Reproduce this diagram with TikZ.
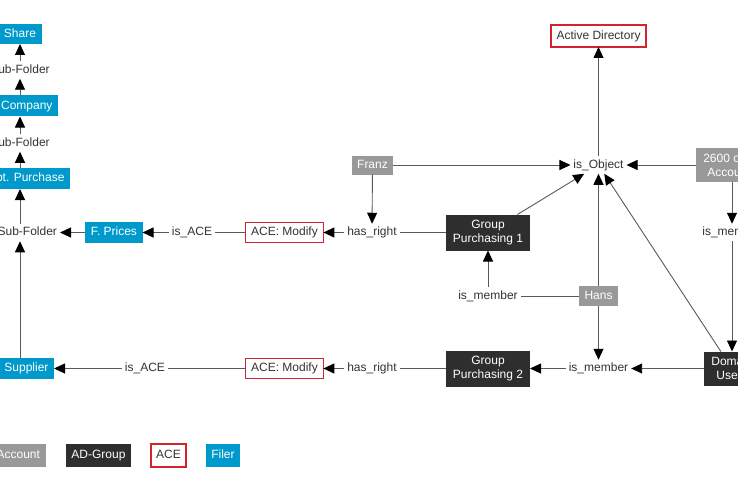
\documentclass[tikz,border=0pt]{standalone}
\usepackage{fontspec}
\setmainfont{Liberation Sans}
\usetikzlibrary{arrows.meta}
\definecolor{filer}{HTML}{0099CC}
\definecolor{acct}{HTML}{999999}
\definecolor{grp}{HTML}{2E2E2E}
\definecolor{acered}{HTML}{D02530}
\definecolor{txt}{HTML}{333333}
\definecolor{ln}{HTML}{5A5A5A}
\begin{document}
\begin{tikzpicture}[x=1pt,y=-1pt,
 every node/.style={font=\fontsize{12}{14}\selectfont, outer sep=0pt},
 sl/.style={text height=9pt, text depth=2.5pt},
 box/.style={inner xsep=5.5pt, inner ysep=0pt, minimum height=21pt, text=white},
 filerbox/.style={box, sl, fill=filer},
 acctbox/.style={box, sl, fill=acct},
 grpbox/.style={box, fill=grp, align=center, minimum width=84pt, minimum height=36pt},
 acebox/.style={box, sl, draw=acered, line width=1.5pt, fill=white, text=txt, minimum height=20pt},
 lbl/.style={sl, inner sep=3pt, text=txt},
 conn/.style={draw=ln, line width=0.9pt},
 arr/.style={conn, -{Triangle[length=11pt,width=10pt,color=black]}}]
\useasboundingbox (0,0) rectangle (738,492);
\fill[white] (0,0) rectangle (738,492);
\clip (0,0) rectangle (738,492);

% left column
\node[filerbox, minimum height=20pt] (share) at (20,34) {Share};
\node[lbl] (sf1) at (20,70) {Sub-Folder};
\node[filerbox, anchor=east] (company) at (58,106) {Company};
\node[lbl] (sf2) at (20,143) {Sub-Folder};
\node[filerbox, anchor=east] (dept) at (70,178.5) {Dept. Purchase};
\node[lbl, anchor=east] (sf3) at (60,232.5) {Sub-Folder};
\node[filerbox, anchor=east] (supplier) at (54,368.5) {F. Supplier};

% row 1
\node[filerbox] (fprices) at (114,232.5) {F. Prices};
\node[lbl] (isace1) at (192,232.5) {is\_ACE};
\node[acebox] (ace1) at (284.5,232.5) {ACE: Modify};
\node[lbl] (hasright1) at (372,232.5) {has\_right};
\node[grpbox] (gp1) at (488,232.5) {Group\\Purchasing 1};
\node[lbl] (ism2) at (732,232.5) {is\_member};

% row 2
\node[lbl] (isace2) at (145,368.5) {is\_ACE};
\node[acebox] (ace2) at (284.5,368.5) {ACE: Modify};
\node[lbl] (hasright2) at (372,368.5) {has\_right};
\node[grpbox] (gp2) at (488,368.5) {Group\\Purchasing 2};
\node[lbl] (ism3) at (598.5,368.5) {is\_member};
\node[box, fill=grp, align=center, minimum width=56pt, minimum height=34pt] (domain) at (732,368.5) {Domain\\Users};

% upper part
\node[acctbox, minimum height=19pt] (franz) at (372.5,165) {Franz};
\node[lbl] (isobj) at (598.5,165) {is\_Object};
\node[acebox, minimum height=22pt] (ad) at (598.5,36) {Active Directory};
\node[box, fill=acct, align=center, minimum width=72pt, minimum height=34pt] (other) at (732,165) {2600 other\\Accounts};
\node[lbl] (ism1) at (488,296) {is\_member};
\node[acctbox, minimum height=20pt] (hans) at (598.5,296) {Hans};

% legend
\node[acctbox, anchor=east, minimum height=23pt] (lacct) at (45.5,455.5) {AD-Account};
\node[box, sl, fill=grp, minimum height=23pt] (lgrp) at (98.5,455.5) {AD-Group};
\node[acebox, minimum height=23pt, inner xsep=5pt] (lace) at (168.5,455.5) {ACE};
\node[filerbox, minimum height=23pt] (lfiler) at (223,455.5) {Filer};

% left chain
\draw[arr] (sf1) -- (share);
\draw[arr] (company.north -| sf1) -- (sf1);
\draw[arr] (sf2) -- (sf2 |- company.south);
\draw[arr] (dept.north -| sf2) -- (sf2);
\draw[arr] (sf3.north -| sf2) -- (sf2 |- dept.south);
\draw[arr] (supplier.north -| sf2) -- (sf2 |- sf3.south);
\draw[arr] (fprices) -- (sf3);

% row 1 connectors
\draw[arr] (isace1) -- (fprices);
\draw[conn] (ace1) -- (isace1);
\draw[arr] (hasright1) -- (ace1);
\draw[conn] (gp1) -- (hasright1);
\draw[arr] (franz) -- (hasright1);
\draw[arr] (franz) -- (isobj);
\draw[arr] (gp1) -- (isobj);
\draw[arr] (ism1) -- (gp1);
\draw[conn] (hans) -- (ism1);
\draw[arr] (hans) -- (isobj);
\draw[arr] (hans) -- (ism3);
\draw[arr] (isobj) -- (ad);
\draw[arr] (other) -- (isobj);
\draw[arr] (other) -- (ism2);
\draw[arr] (ism2) -- (domain);
\draw[arr] (domain) -- (isobj);

% row 2 connectors
\draw[arr] (domain) -- (ism3);
\draw[arr] (ism3) -- (gp2);
\draw[conn] (gp2) -- (hasright2);
\draw[arr] (hasright2) -- (ace2);
\draw[conn] (ace2) -- (isace2);
\draw[arr] (isace2) -- (supplier);
\end{tikzpicture}
\end{document}
